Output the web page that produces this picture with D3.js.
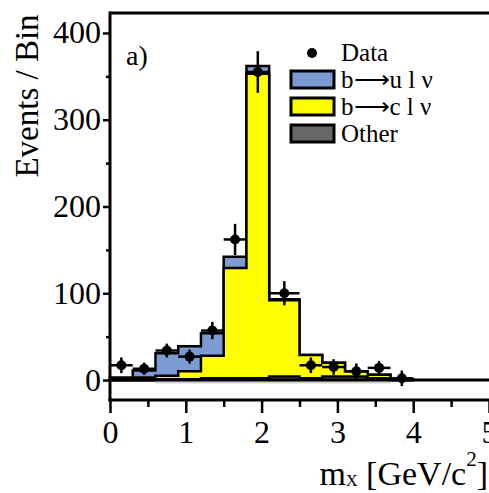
<!DOCTYPE html>
<html>
<head>
<meta charset="utf-8">
<script src="https://cdn.jsdelivr.net/npm/d3@7"></script>
<style>
  html, body { margin: 0; padding: 0; background: #fff; }
  svg { display: block; }
  text { font-family: "Liberation Serif", "Times New Roman", serif; fill: #000; }
</style>
</head>
<body>
<svg id="chart" width="489" height="493"></svg>
<script>
// ---- data ----
const binEdges = [0, 0.3, 0.6, 0.9, 1.2, 1.5, 1.8, 2.1, 2.5, 2.8, 3.1, 3.4, 3.7, 4.0];
const otherVals = [0, 0, 1, 1, 2, 2, 2, 4, 2, 4, 4, 2, 0];
const bToCVals  = [1, 3, 4, 9, 26, 127, 351, 88, 27, 16, 6, 4, 1];
const bToUVals  = [2, 8, 26, 29, 26, 13, 9, 1, 0, 0, 0, 0, 0];
const dataX   = [0.15, 0.45, 0.75, 1.05, 1.35, 1.65, 1.95, 2.3, 2.65, 2.95, 3.25, 3.55, 3.85];
const dataY   = [17, 13, 34, 27, 57, 162, 355, 100, 17, 15, 10, 14, 2];
const dataErr = [9, 7, 8, 8, 10, 18, 24, 14, 9, 9, 9, 8, 9];
const xTicks = [0, 1, 2, 3, 4, 5];
const xMinorTicks = [0.5, 1.5, 2.5, 3.5, 4.5];
const yTicks = [0, 100, 200, 300, 400];
const yMinorTicks = [50, 150, 250, 350];
const legendLabels = ["Data", "b\u27F6u l \u03bd", "b\u27F6c l \u03bd", "Other"];
const colors = { bu: "#7b9bd2", bc: "#ffff00", other: "#686868" };

// ---- scales ----
const svg = d3.select("#chart");
const x = d3.scaleLinear().domain([0, 5]).range([110, 489]);
const y = d3.scaleLinear().domain([-23, 423]).range([400, 13]);

// ---- histogram layers (stacked) ----
const layerOther = otherVals.slice();
const layerC = otherVals.map((v, i) => v + bToCVals[i]);
const layerU = layerC.map((v, i) => v + bToUVals[i]);

function stepPoints(vals) {
  const pts = [];
  vals.forEach((v, i) => {
    pts.push([binEdges[i], v]);
    pts.push([binEdges[i + 1], v]);
  });
  return pts;
}
const area = d3.area().x(d => x(d[0])).y0(y(0)).y1(d => y(d[1]));

[[layerU, colors.bu], [layerC, colors.bc], [layerOther, colors.other]].forEach(([vals, col]) => {
  svg.append("path")
    .attr("d", area(stepPoints(vals)))
    .attr("fill", col)
    .attr("stroke", "#000")
    .attr("stroke-width", 2.5)
    .attr("stroke-linejoin", "miter");
});

// light strip under the baseline (as in the scan)
svg.append("path")
  .attr("d", d3.area().x(d => x(d[0])).y0(y(0) + 3.5).y1(y(0))(
    [[binEdges[2], 0], [binEdges[12], 0]]))
  .attr("fill", "#d4d4c2");

// zero baseline
svg.append("line")
  .attr("x1", x(0)).attr("x2", x(5))
  .attr("y1", y(0)).attr("y2", y(0))
  .attr("stroke", "#000").attr("stroke-width", 3);

// ---- data points ----
const pts = svg.append("g");
dataX.forEach((cx, i) => {
  const g = pts.append("g");
  g.append("line")
    .attr("x1", x(binEdges[i])).attr("x2", x(binEdges[i + 1]))
    .attr("y1", y(dataY[i])).attr("y2", y(dataY[i]))
    .attr("stroke", "#000").attr("stroke-width", 2.5);
  g.append("line")
    .attr("x1", x(cx)).attr("x2", x(cx))
    .attr("y1", y(dataY[i] - dataErr[i])).attr("y2", y(dataY[i] + dataErr[i]))
    .attr("stroke", "#000").attr("stroke-width", 2.5);
  g.append("circle")
    .attr("cx", x(cx)).attr("cy", y(dataY[i])).attr("r", 5)
    .attr("fill", "#000");
});

// ---- axes ----
const axX = svg.append("g").attr("transform", `translate(0,400)`)
  .call(d3.axisBottom(x).tickValues(xTicks).tickSize(13).tickFormat(d3.format("d")));
const axXm = svg.append("g").attr("transform", `translate(0,400)`)
  .call(d3.axisBottom(x).tickValues(xMinorTicks).tickSize(7).tickFormat(""));
const axY = svg.append("g").attr("transform", `translate(110,0)`)
  .call(d3.axisLeft(y).tickValues(yTicks).tickSize(7).tickFormat(d3.format("d")));
const axYm = svg.append("g").attr("transform", `translate(110,0)`)
  .call(d3.axisLeft(y).tickValues(yMinorTicks).tickSize(4).tickFormat(""));

[axX, axXm, axY, axYm].forEach(a => {
  a.select(".domain").remove();
  a.selectAll("line").attr("stroke", "#000").attr("stroke-width", 2.5);
});
axX.selectAll("text")
  .attr("dy", null).attr("y", 43)
  .attr("font-size", 32).attr("fill", "#000")
  .style("font-family", "'Liberation Serif', serif");
axY.selectAll("text")
  .attr("dy", null).attr("x", -9).attr("y", 10)
  .attr("font-size", 32).attr("fill", "#000")
  .style("font-family", "'Liberation Serif', serif");

// frame lines: top, left, bottom
svg.append("line").attr("x1", 110).attr("x2", 489).attr("y1", 13).attr("y2", 13)
  .attr("stroke", "#000").attr("stroke-width", 3);
svg.append("line").attr("x1", 110).attr("x2", 110).attr("y1", 11.5).attr("y2", 401.5)
  .attr("stroke", "#000").attr("stroke-width", 3);
svg.append("line").attr("x1", 108.5).attr("x2", 489).attr("y1", 400).attr("y2", 400)
  .attr("stroke", "#000").attr("stroke-width", 3);

// ---- axis titles ----
svg.append("text")
  .attr("transform", "translate(38,96) rotate(-90)")
  .attr("text-anchor", "middle")
  .attr("font-size", 33)
  .text("Events / Bin");

const xt = svg.append("text")
  .attr("x", 488).attr("y", 485)
  .attr("text-anchor", "end")
  .attr("font-size", 34);
xt.append("tspan").text("m");
xt.append("tspan").attr("font-size", 16).attr("dy", 1).text("X");
xt.append("tspan").attr("dy", -1).text(" [GeV/c");
xt.append("tspan").attr("font-size", 21).attr("dy", -19).text("2");
xt.append("tspan").attr("dy", 19).text("]");

// panel label
svg.append("text").attr("x", 126).attr("y", 65).attr("font-size", 28).text("a)");

// ---- legend ----
const lg = svg.append("g");
lg.append("circle").attr("cx", 312).attr("cy", 53).attr("r", 5).attr("fill", "#000");
const boxFills = [colors.bu, colors.bc, colors.other];
boxFills.forEach((c, i) => {
  lg.append("rect")
    .attr("x", 291).attr("y", 71 + i * 27)
    .attr("width", 43).attr("height", 17)
    .attr("fill", c).attr("stroke", "#000").attr("stroke-width", 3);
});
legendLabels.forEach((t, i) => {
  lg.append("text")
    .attr("x", 341).attr("y", 61 + i * 27)
    .attr("font-size", 25)
    .text(t);
});
</script>
</body>
</html>
